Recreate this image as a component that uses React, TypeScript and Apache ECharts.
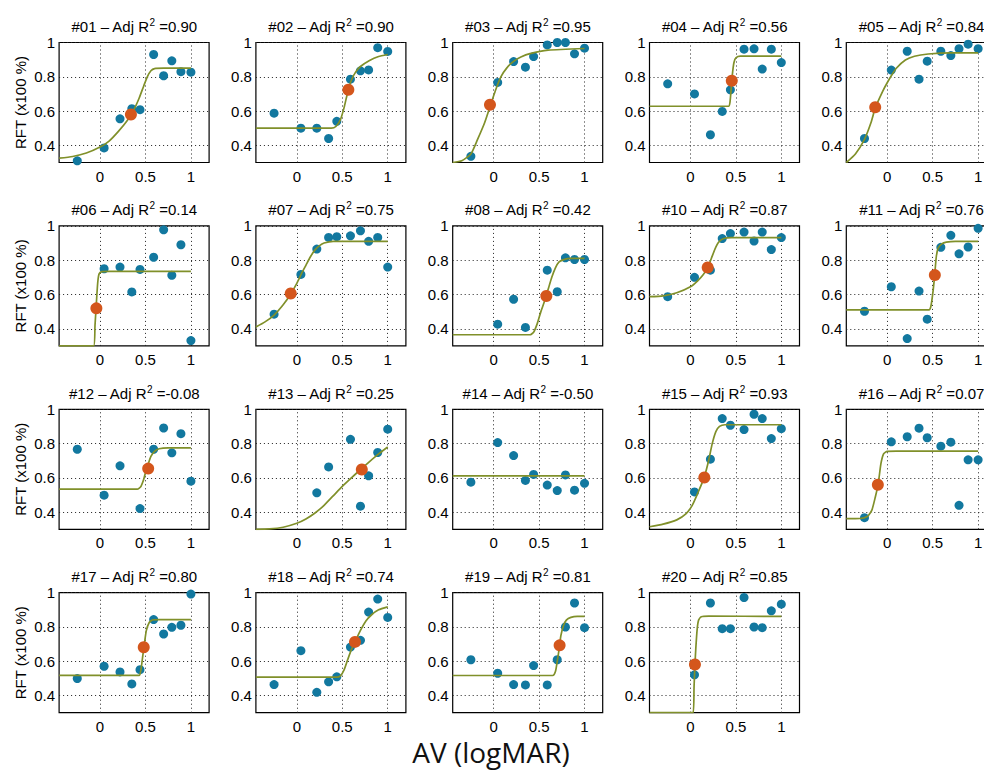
import React, { useEffect, useRef } from "react";
import * as echarts from "echarts";

// ---- data ----
const avLevels = [-0.25, 0.045, 0.22, 0.35, 0.44, 0.59, 0.7, 0.79, 0.89, 1.0];
const xTicks = [0, 0.5, 1];
const yTicks = [0.4, 0.6, 0.8, 1];

const subjectIds = ["01", "02", "03", "04", "05", "06", "07", "08", "10", "11", "12", "13", "14", "15", "16", "17", "18", "19", "20"];
const adjR2 = ["0.90", "0.90", "0.95", "0.56", "0.84", "0.14", "0.75", "0.42", "0.87", "0.76", "-0.08", "0.25", "-0.50", "0.93", "0.07", "0.80", "0.74", "0.81", "0.85"];

const rft01 = [0.31, 0.385, 0.555, 0.614, 0.608, 0.93, 0.806, 0.893, 0.83, 0.827];
const rft02 = [0.588, 0.5, 0.5, 0.44, 0.54, 0.786, 0.835, 0.84, 0.97, 0.948];
const rft03 = [0.336, 0.767, 0.889, 0.856, 0.918, 0.986, 1.0, 1.0, 0.934, 0.967];
const rft04 = [0.759, 0.7, 0.462, 0.598, 0.724, 0.961, 0.963, 0.845, 0.961, 0.883];
const rft05 = [0.44, 0.839, 0.949, 0.786, 0.891, 0.949, 0.924, 0.964, 0.99, 0.964];
const rft06 = [null, 0.75, 0.76, 0.615, 0.746, 0.817, 0.977, 0.712, 0.89, 0.331];
const rft07 = [0.485, 0.717, 0.865, 0.933, 0.937, 0.942, 0.971, 0.91, 0.933, 0.76];
const rft08 = [null, 0.427, 0.572, 0.408, null, 0.742, 0.616, 0.814, 0.804, 0.804];
const rft10 = [0.587, 0.7, 0.742, 0.926, 0.955, 0.964, 0.912, 0.964, 0.862, 0.932];
const rft11 = [0.502, 0.645, 0.343, 0.62, 0.456, 0.875, 0.945, 0.837, 0.877, 0.986];
const rft12 = [0.767, 0.499, 0.67, null, 0.421, 0.767, 0.891, 0.746, 0.858, 0.581];
const rft13 = [null, null, 0.513, 0.664, null, 0.825, 0.435, 0.612, 0.748, 0.884];
const rft14 = [0.575, 0.806, 0.73, 0.585, 0.62, 0.558, 0.526, 0.617, 0.528, 0.568];
const rft15 = [null, 0.518, 0.709, 0.946, 0.907, 0.882, 0.971, 0.946, 0.829, 0.887];
const rft16 = [0.368, 0.81, 0.84, 0.89, 0.834, 0.785, 0.808, 0.44, 0.705, 0.705];
const rft17 = [0.499, 0.571, 0.538, 0.468, 0.551, 0.843, 0.759, 0.798, 0.81, 0.992];
const rft18 = [0.464, 0.662, 0.419, 0.48, 0.509, 0.683, 0.722, 0.887, 0.963, 0.856];
const rft19 = [0.609, 0.53, 0.464, 0.462, 0.575, 0.462, 0.609, 0.8, 0.94, 0.796];
const rft20 = [null, 0.521, 0.94, 0.79, 0.79, 0.972, 0.8, 0.796, 0.894, 0.933];

// midpoint (threshold) markers
const mid01 = [0.34, 0.58];
const mid02 = [0.567, 0.724];
const mid03 = [-0.04, 0.637];
const mid04 = [0.455, 0.777];
const mid05 = [-0.132, 0.622];
const mid06 = [-0.04, 0.519];
const mid07 = [-0.067, 0.606];
const mid08 = [0.58, 0.591];
const mid10 = [0.19, 0.757];
const mid11 = [0.524, 0.713];
const mid12 = [0.53, 0.654];
const mid13 = [0.715, 0.649];
const mid14 = null;
const mid15 = [0.153, 0.602];
const mid16 = [-0.103, 0.56];
const mid17 = [0.481, 0.682];
const mid18 = [0.64, 0.713];
const mid19 = [0.726, 0.693];
const mid20 = [0.05, 0.581];

// fitted curves
const fit01 = [[-0.45, 0.325], [-0.3, 0.335], [-0.15, 0.355], [0, 0.39], [0.1, 0.425], [0.2, 0.48], [0.3, 0.545], [0.37, 0.605], [0.43, 0.675], [0.48, 0.745], [0.52, 0.8], [0.56, 0.835], [0.6, 0.848], [0.7, 0.85], [1.0, 0.85]];
const fit02 = [[-0.45, 0.5], [0.38, 0.5], [0.43, 0.51], [0.48, 0.55], [0.52, 0.62], [0.56, 0.71], [0.6, 0.78], [0.65, 0.83], [0.7, 0.86], [0.8, 0.895], [0.9, 0.918], [1.0, 0.93]];
const fit03 = [[-0.45, 0.3], [-0.35, 0.31], [-0.25, 0.35], [-0.18, 0.43], [-0.1, 0.53], [-0.04, 0.625], [0.02, 0.72], [0.08, 0.8], [0.15, 0.855], [0.22, 0.89], [0.3, 0.915], [0.4, 0.935], [0.6, 0.955], [1.0, 0.965]];
const fit04 = [[-0.45, 0.628], [0.42, 0.628], [0.435, 0.65], [0.45, 0.74], [0.465, 0.83], [0.48, 0.885], [0.5, 0.91], [0.55, 0.92], [1.0, 0.92]];
const fit05 = [[-0.45, 0.3], [-0.35, 0.35], [-0.25, 0.435], [-0.18, 0.53], [-0.13, 0.62], [-0.05, 0.715], [0, 0.765], [0.05, 0.81], [0.1, 0.85], [0.2, 0.898], [0.3, 0.92], [0.45, 0.933], [0.7, 0.94], [1.0, 0.94]];
const fit06 = [[-0.45, 0.3], [-0.07, 0.3], [-0.055, 0.42], [-0.04, 0.55], [-0.025, 0.67], [-0.01, 0.72], [0.02, 0.733], [0.1, 0.735], [1.0, 0.735]];
const fit07 = [[-0.45, 0.41], [-0.35, 0.44], [-0.25, 0.48], [-0.15, 0.54], [-0.07, 0.6], [0, 0.665], [0.05, 0.72], [0.1, 0.77], [0.15, 0.82], [0.2, 0.86], [0.25, 0.885], [0.3, 0.9], [0.4, 0.91], [1.0, 0.91]];
const fit08 = [[-0.45, 0.365], [0.4, 0.365], [0.44, 0.38], [0.48, 0.43], [0.52, 0.5], [0.56, 0.56], [0.6, 0.63], [0.64, 0.7], [0.68, 0.755], [0.72, 0.79], [0.78, 0.805], [0.85, 0.81], [1.0, 0.81]];
const fit10 = [[-0.45, 0.587], [-0.3, 0.592], [-0.15, 0.61], [0, 0.645], [0.08, 0.68], [0.14, 0.715], [0.19, 0.757], [0.23, 0.81], [0.27, 0.865], [0.31, 0.905], [0.36, 0.925], [0.45, 0.932], [1.0, 0.932]];
const fit11 = [[-0.45, 0.51], [0.46, 0.51], [0.48, 0.53], [0.5, 0.6], [0.52, 0.7], [0.54, 0.82], [0.56, 0.87], [0.6, 0.895], [0.65, 0.905], [0.75, 0.91], [1.0, 0.91]];
const fit12 = [[-0.45, 0.534], [0.41, 0.534], [0.45, 0.55], [0.48, 0.59], [0.5, 0.63], [0.53, 0.68], [0.56, 0.725], [0.6, 0.755], [0.65, 0.77], [0.75, 0.775], [1.0, 0.775]];
const fit13 = [[-0.45, 0.3], [-0.3, 0.302], [-0.15, 0.312], [0, 0.335], [0.1, 0.36], [0.2, 0.395], [0.3, 0.44], [0.4, 0.495], [0.5, 0.55], [0.6, 0.6], [0.7, 0.648], [0.8, 0.695], [0.9, 0.74], [1.0, 0.78]];
const fit14 = [[-0.45, 0.612], [1.0, 0.612]];
const fit15 = [[-0.45, 0.315], [-0.3, 0.33], [-0.15, 0.355], [-0.05, 0.39], [0.02, 0.44], [0.08, 0.51], [0.15, 0.6], [0.2, 0.7], [0.24, 0.8], [0.28, 0.87], [0.32, 0.9], [0.38, 0.91], [1.0, 0.91]];
const fit16 = [[-0.45, 0.362], [-0.3, 0.363], [-0.22, 0.375], [-0.17, 0.41], [-0.13, 0.49], [-0.1, 0.56], [-0.07, 0.68], [-0.04, 0.74], [0, 0.755], [0.1, 0.756], [1.0, 0.756]];
const fit17 = [[-0.45, 0.518], [0.43, 0.518], [0.45, 0.55], [0.47, 0.63], [0.49, 0.71], [0.51, 0.78], [0.54, 0.825], [0.58, 0.842], [0.65, 0.843], [1.0, 0.843]];
const fit18 = [[-0.45, 0.507], [0.44, 0.507], [0.48, 0.515], [0.52, 0.55], [0.56, 0.61], [0.6, 0.668], [0.64, 0.713], [0.7, 0.78], [0.76, 0.835], [0.82, 0.87], [0.9, 0.9], [1.0, 0.917]];
const fit19 = [[-0.45, 0.517], [0.65, 0.517], [0.68, 0.54], [0.7, 0.6], [0.72, 0.67], [0.74, 0.75], [0.77, 0.81], [0.8, 0.84], [0.85, 0.856], [0.92, 0.862], [1.0, 0.862]];
const fit20 = [[-0.45, 0.3], [0.03, 0.3], [0.04, 0.45], [0.05, 0.58], [0.06, 0.68], [0.075, 0.79], [0.09, 0.84], [0.12, 0.86], [0.2, 0.863], [1.0, 0.862]];

const rftAll = [rft01, rft02, rft03, rft04, rft05, rft06, rft07, rft08, rft10, rft11, rft12, rft13, rft14, rft15, rft16, rft17, rft18, rft19, rft20];
const midAll = [mid01, mid02, mid03, mid04, mid05, mid06, mid07, mid08, mid10, mid11, mid12, mid13, mid14, mid15, mid16, mid17, mid18, mid19, mid20];
const fitAll = [fit01, fit02, fit03, fit04, fit05, fit06, fit07, fit08, fit10, fit11, fit12, fit13, fit14, fit15, fit16, fit17, fit18, fit19, fit20];

// ---- layout / style ----
const FONT = "Liberation Sans, Arial, sans-serif";
const BLUE = "#12789f";
const ORANGE = "#d4561c";
const GREEN = "#80902a";
const BOX_LEFT = 59.1;
const BOX_TOP = 42.5;
const COL_STEP = 196.8;
const ROW_STEP = 183.4;
const BOX_W = 150;
const BOX_H = 120;

export default function App() {
  const ref = useRef<HTMLDivElement>(null);

  useEffect(() => {
    if (!ref.current) return;
    const chart = echarts.init(ref.current, null, { renderer: "svg" });
    const grid: any[] = [];
    const xAxis: any[] = [];
    const yAxis: any[] = [];
    const series: any[] = [];
    const graphic: any[] = [];

    subjectIds.forEach((id, i) => {
      const row = Math.floor(i / 5);
      const col = i % 5;
      const left = BOX_LEFT + col * COL_STEP;
      const top = BOX_TOP + row * ROW_STEP;
      grid.push({
        left, top, width: BOX_W, height: BOX_H,
        show: true, borderColor: "#000", borderWidth: 1.2,
        backgroundColor: "transparent", containLabel: false, outerBoundsMode: "none",
      });
      xAxis.push({
        type: "value", gridIndex: i, min: -0.45, max: 1.2,
        axisLine: { show: false }, axisTick: { show: false }, splitLine: { show: false },
        axisLabel: { customValues: xTicks, margin: 6, color: "#000", fontSize: 15, fontFamily: FONT },
      });
      yAxis.push({
        type: "value", gridIndex: i, min: 0.3, max: 1,
        axisLine: { show: false }, axisTick: { show: false }, splitLine: { show: false },
        axisLabel: { customValues: yTicks, margin: 4, color: "#000", fontSize: 15, fontFamily: FONT },
      });
      const pts = avLevels
        .map((x, k) => (rftAll[i][k] == null ? null : [x, rftAll[i][k]]))
        .filter((p) => p !== null);
      series.push({
        type: "scatter", xAxisIndex: i, yAxisIndex: i, data: pts,
        symbolSize: 9, itemStyle: { color: BLUE, opacity: 1 }, z: 3, silent: true,
      });
      series.push({
        type: "line", xAxisIndex: i, yAxisIndex: i, data: fitAll[i],
        showSymbol: false, smooth: 0.2, lineStyle: { color: GREEN, width: 1.7 }, z: 4, silent: true,
        markLine: {
          silent: true, symbol: ["none", "none"], label: { show: false },
          lineStyle: { color: "#222", type: [1, 3], width: 1 },
          emphasis: { disabled: true },
          data: [...xTicks.map((v) => ({ xAxis: v })), ...yTicks.map((v) => ({ yAxis: v }))],
          z: 1,
        },
      });
      if (midAll[i]) {
        series.push({
          type: "scatter", xAxisIndex: i, yAxisIndex: i, data: [midAll[i]],
          symbolSize: 12, itemStyle: { color: ORANGE, opacity: 1 }, z: 5, silent: true,
        });
      }
      graphic.push({
        type: "text", x: left + BOX_W / 2, y: top - 16, silent: true,
        style: {
          text: `{a|#${id} – Adj R}{s|2}{a| =${adjR2[i]}}`,
          align: "center", verticalAlign: "middle",
          rich: {
            a: { fontSize: 15, fontFamily: FONT, fill: "#000", lineHeight: 18 },
            s: { fontSize: 10, fontFamily: FONT, fill: "#000", lineHeight: 10, verticalAlign: "top" },
          },
        },
      });
      if (col === 0) {
        graphic.push({
          type: "text", x: 20.5, y: top + BOX_H / 2, rotation: Math.PI / 2, silent: true,
          style: {
            text: "RFT (x100 %)", align: "center", verticalAlign: "middle",
            fontSize: 15, fontFamily: FONT, fill: "#000",
          },
        });
      }
    });

    graphic.push({
      type: "text", x: 491, y: 752, silent: true,
      style: {
        text: "AV (logMAR)", align: "center", verticalAlign: "middle",
        fontSize: 28, fontFamily: "Open Sans, sans-serif", fill: "#111",
      },
    });

    chart.setOption({
      animation: false,
      backgroundColor: "#fff",
      grid, xAxis, yAxis, series, graphic,
    });
    return () => chart.dispose();
  }, []);

  return (
    <div
      ref={ref}
      style={{ position: "absolute", left: 0, top: 0, width: 984, height: 778 }}
    />
  );
}
